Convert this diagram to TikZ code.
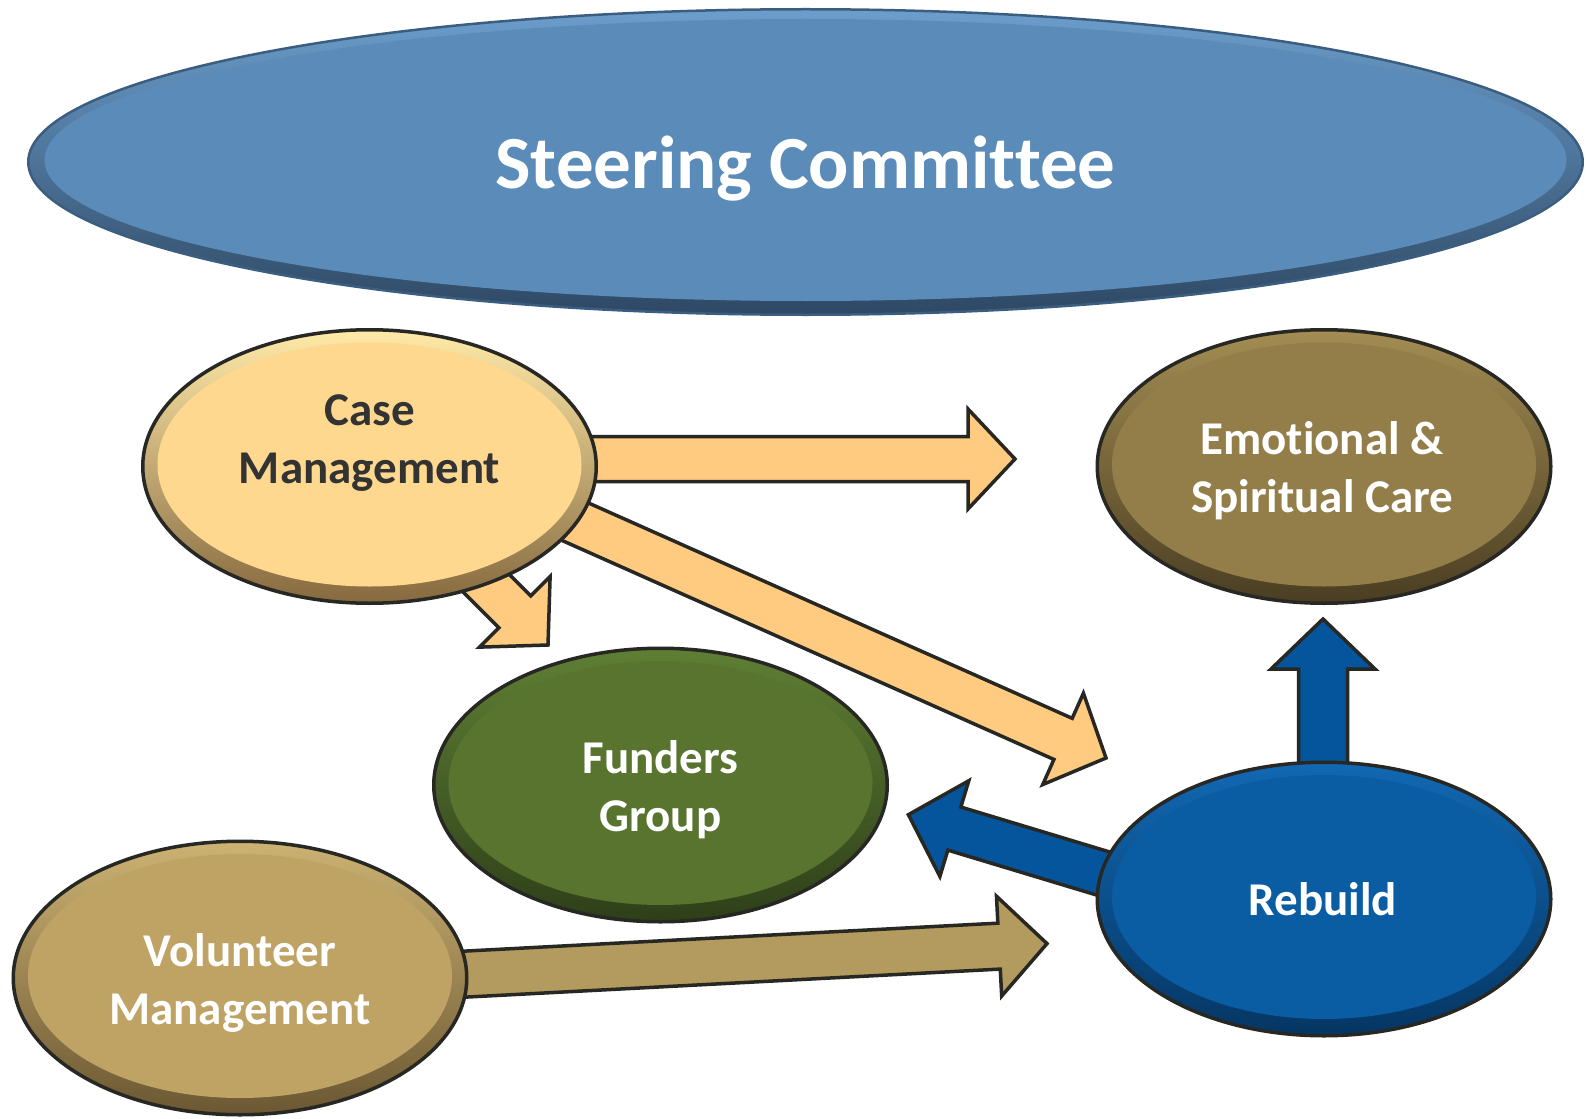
\documentclass[tikz,border=0pt]{standalone}
\usepackage{fontspec}
\setmainfont{Carlito}[Ligatures=NoCommon]
\usetikzlibrary{calc,shapes.geometric}
\pgfdeclarelayer{background}
\pgfsetlayers{background,main}

\definecolor{bordK}{HTML}{272723}
\definecolor{steerF}{HTML}{5B8BB8}
\definecolor{steerL}{HTML}{6C9ECC}
\definecolor{steerD}{HTML}{2E4864}
\definecolor{steerB}{HTML}{3B5E80}
\definecolor{caseF}{HTML}{FED88F}
\definecolor{caseL}{HTML}{FFEAA8}
\definecolor{caseD}{HTML}{86693F}
\definecolor{emoF}{HTML}{937E49}
\definecolor{emoL}{HTML}{A38D53}
\definecolor{emoD}{HTML}{4A3D22}
\definecolor{fundF}{HTML}{58742F}
\definecolor{fundL}{HTML}{5F7F34}
\definecolor{fundD}{HTML}{2E3F19}
\definecolor{rebF}{HTML}{0A5CA3}
\definecolor{rebL}{HTML}{1268B3}
\definecolor{rebD}{HTML}{053663}
\definecolor{volF}{HTML}{BFA365}
\definecolor{volL}{HTML}{CCB273}
\definecolor{volD}{HTML}{6B5732}
\definecolor{arrCase}{HTML}{FECB81}
\definecolor{arrBlue}{HTML}{04559B}
\definecolor{arrTan}{HTML}{B39A5E}
\definecolor{caseText}{HTML}{333333}

\newcommand\blockarrow[6]{%
  \coordinate (ba-hb) at ($(#3)!#6!(#2)$);
  \draw[#1] ($(#2)!#4!90:(#3)$) -- ($(ba-hb)!#4!90:(#3)$) -- ($(ba-hb)!#5!90:(#3)$)
    -- (#3) -- ($(ba-hb)!#5!-90:(#3)$) -- ($(ba-hb)!#4!-90:(#3)$) -- ($(#2)!#4!-90:(#3)$) -- cycle;}

\tikzset{
  bub/.style n args={3}{ellipse, draw=bordK, line width=3.5pt, top color=#2, bottom color=#3,
    minimum width=453.5pt, minimum height=273.5pt, inner sep=0pt,
    path picture={\fill[#1] ($(path picture bounding box.center)+(0,-2)$) ellipse [x radius=212pt, y radius=122pt];}},
  steerbub/.style={ellipse, draw=steerB, line width=2.5pt, top color=steerL, bottom color=steerD,
    minimum width=1554.5pt, minimum height=305.5pt, inner sep=0pt,
    path picture={\fill[steerF] ($(path picture bounding box.center)+(0,-2)$) ellipse [x radius=761pt, y radius=141pt];}},
  lbl/.style={font=\bfseries\fontsize{47}{58}\selectfont, text=white, align=center, anchor=base, inner sep=0pt},
  arrowC/.style={fill=arrCase, draw=bordK, line width=3.5pt, line join=miter},
  arrowB/.style={fill=arrBlue, draw=bordK, line width=3.5pt, line join=miter},
  arrowT/.style={fill=arrTan, draw=bordK, line width=3.5pt, line join=miter},
}

\begin{document}
\begin{tikzpicture}[x=1pt,y=-1pt]
\useasboundingbox (0,0) rectangle (1586,1118);
\begin{pgfonlayer}{background}
\fill[white] (0,0) rectangle (1586,1118);
\end{pgfonlayer}

% ellipses
\node[steerbub] (steer) at (805.5,162) {};
\node[bub={caseF}{caseL}{caseD}] (case) at (369.5,466.5) {};
\node[bub={emoF}{emoL}{emoD}] (emo) at (1324,466.5) {};
\node[bub={fundF}{fundL}{fundD}] (fund) at (660.5,785) {};
\node[bub={rebF}{rebL}{rebD}] (reb) at (1324,899) {};
\node[bub={volF}{volL}{volD}] (vol) at (240,978) {};

% labels (base anchor = baseline of the last line)
\node[lbl, font=\bfseries\fontsize{75}{90}\selectfont] (steerT) at ($(steer.center)+(0,27)$) {Steering Committee};
\node[lbl, text=caseText] (caseT) at ($(case.center)+(0,16.5)$) {Case\\Management};
\node[lbl] (emoT) at ($(emo.center)+(-2,45.5)$) {Emotional \&\\Spiritual Care};
\node[lbl] (fundT) at ($(fund.center)+(0,46)$) {Funders\\Group};
\node[lbl] (rebT) at ($(reb.center)+(-1,16)$) {Rebuild};
\node[lbl] (volT) at ($(vol.center)+(0,46)$) {Volunteer\\Management};

% arrow end points
\coordinate (s1) at ($(case.center)+(60,-7.5)$);
\coordinate (t1) at (1015,459);
\coordinate (s2) at ($(case.center)+(97,6.8)$);
\coordinate (t2) at (1106,758);
\coordinate (s3) at ($(case.center)+(80.5,80.5)$);
\coordinate (t3) at (548,645);
\coordinate (s4) at ($(reb.center)+(-1,-79)$);
\coordinate (t4) at (1323,619);
\coordinate (s5) at ($(reb.center)+(-128.5,2.4)$);
\coordinate (t5) at (908.4,814.7);
\coordinate (s6) at ($(vol.center)+(48,5.4)$);
\coordinate (t6) at (1047,943.6);

\begin{pgfonlayer}{background}
\blockarrow{arrowC}{s1}{t1}{22.5pt}{50pt}{47pt}
\blockarrow{arrowC}{s2}{t2}{22.5pt}{50pt}{47pt}
\blockarrow{arrowC}{s3}{t3}{22.5pt}{50pt}{47pt}
\blockarrow{arrowB}{s4}{t4}{24.5pt}{52pt}{50pt}
\blockarrow{arrowB}{s5}{t5}{22.5pt}{50pt}{48pt}
\blockarrow{arrowT}{s6}{t6}{23pt}{50pt}{48pt}
\end{pgfonlayer}
\end{tikzpicture}
\end{document}
